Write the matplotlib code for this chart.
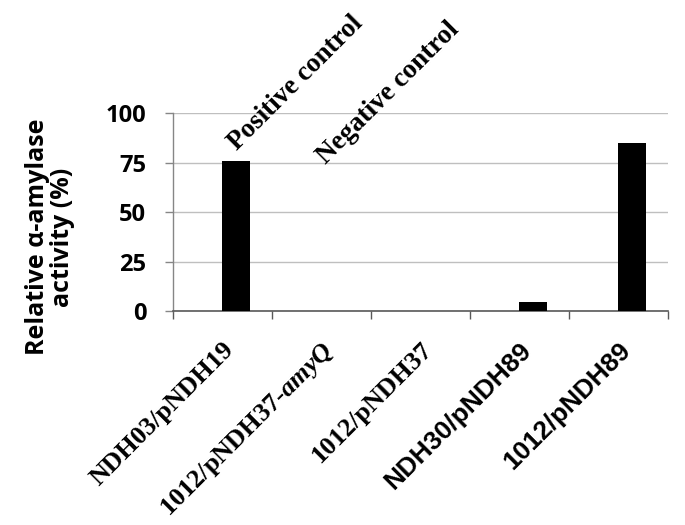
import matplotlib
matplotlib.use('Agg')
import matplotlib.pyplot as plt
import numpy as np

# data
strains = ['NDH03/pNDH19', '1012/pNDH37-$\\mathit{amyQ}$', '1012/pNDH37',
           'NDH30/pNDH89', '1012/pNDH89']
label_fonts = ['Liberation Serif', 'Liberation Serif', 'Liberation Serif',
               'Liberation Sans', 'Liberation Sans']
activity = [76, 0, 0, 5, 85]
y_ticks = [0, 25, 50, 75, 100]

plt.rcParams['mathtext.fontset'] = 'custom'
plt.rcParams['mathtext.it'] = 'Liberation Serif:italic:bold'
plt.rcParams['mathtext.rm'] = 'Liberation Serif:bold'

sans = ['Open Sans', 'DejaVu Sans']

fig = plt.figure(figsize=(6.85, 5.25), dpi=100)
ax = fig.add_axes([0.2521, 0.4067, 0.7227, 0.3775])

x = np.arange(len(strains))
# second series of an excel clustered chart -> shifted right of centre
ax.bar(x + 0.14, activity, width=0.28, color='black', zorder=3)

ax.set_xlim(-0.5, len(strains) - 0.5)
ax.set_ylim(0, 100)
ax.set_yticks(y_ticks)
ax.yaxis.grid(True, color='#bfbfbf', linewidth=1.0, zorder=0)

for s in ['top', 'right']:
    ax.spines[s].set_visible(False)
ax.spines['left'].set_color('#868686')
ax.spines['bottom'].set_color('#595959')
ax.spines['left'].set_linewidth(1.0)
ax.spines['bottom'].set_linewidth(1.2)

# tick marks sit on category borders
ax.set_xticks(np.arange(-0.5, len(strains), 1.0), minor=True)
ax.tick_params(axis='x', which='minor', length=6, width=1.0, color='#595959')
ax.set_xticks(x)
ax.set_xticklabels(strains, rotation=45, ha='right', va='top',
                   rotation_mode='anchor', fontsize=19, fontweight='bold')
ax.tick_params(axis='x', which='major', length=0, pad=19)
for lab, fam in zip(ax.get_xticklabels(), label_fonts):
    lab.set_fontfamily(fam)

ax.tick_params(axis='y', length=6, width=1.0, color='#868686', pad=13)
for lab in ax.get_yticklabels():
    lab.set_fontfamily(sans)
    lab.set_fontsize(17)
    lab.set_fontweight('bold')

# annotations above the control bars
ax.text(0.15, 81, 'Positive control', rotation=45, rotation_mode='anchor',
        ha='left', va='baseline', fontsize=19.5, fontweight='bold',
        family='Liberation Serif', clip_on=False)
ax.text(1.05, 74, 'Negative control', rotation=45, rotation_mode='anchor',
        ha='left', va='baseline', fontsize=19.5, fontweight='bold',
        family='Liberation Serif', clip_on=False)

fig.text(50 / 685, 1 - 237 / 525, 'Relative α-amylase\nactivity (%)',
         rotation=90, ha='center', va='center', multialignment='center',
         fontsize=18, fontweight='bold', family=sans, linespacing=1.0)

fig.savefig('out.png', dpi=100)
